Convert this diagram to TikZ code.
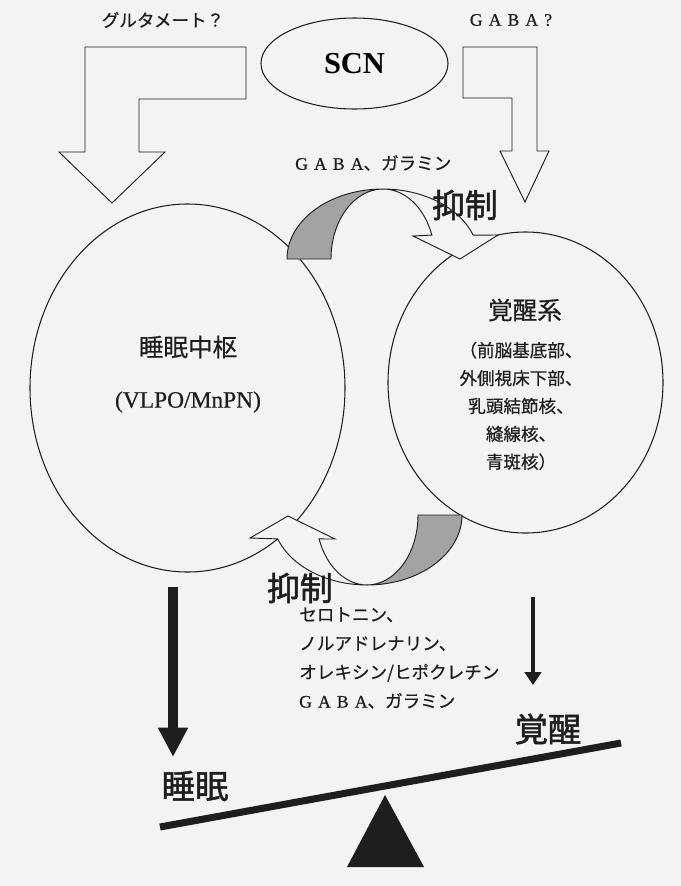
\documentclass[tikz,border=0pt]{standalone}
\usepackage{fontspec}
\setmainfont{Liberation Serif}
\newfontfamily\jp[FakeBold=0.5]{Noto Sans CJK JP}
\newfontfamily\jpheavy[FakeBold=1.5]{Noto Sans CJK JP}
\newfontfamily\serifheavy[FakeBold=0.6]{Liberation Serif}
\newfontfamily\gaba[LetterSpace=35, FakeBold=0.6]{Liberation Serif}
\usetikzlibrary{shapes.geometric, arrows.meta}
\definecolor{paper}{RGB}{243,243,243}
\definecolor{ribbon}{RGB}{163,163,163}
\definecolor{ink}{RGB}{30,30,30}
\tikzset{
  oval/.style={ellipse, draw=ink, line width=0.9pt, inner sep=0pt},
  hollow/.style={draw=ink, line width=0.8pt, fill=paper},
  back/.style={draw=ink, line width=0.8pt, fill=ribbon},
  lbl/.style={inner sep=0pt, text=ink},
  bigarrow/.style={draw=ink, line width=8.5pt, -{Triangle[width=24pt,length=25pt]}},
  smallarrow/.style={draw=ink, line width=4.2pt, -{Triangle[width=14pt,length=11pt]}}
}

\begin{document}
\begin{tikzpicture}[x=0.03cm, y=-0.03cm]
  \path[use as bounding box, fill=paper] (0,0) rectangle (681,886);

  % SCN and the two centres
  \node[oval, minimum width=5.61cm, minimum height=2.73cm, font=\bfseries\fontsize{26}{30}\selectfont] (scn) at (354.5,63.5) {SCN};
  \node[oval, minimum width=9.45cm, minimum height=11.04cm] (sleepc) at (187.5,388) {};
  \node[oval, minimum width=8.25cm, minimum height=9.03cm] (wakec) at (525.5,382.5) {};

  % block arrows from SCN
  \draw[hollow] (246,47) -- (85,47) -- (85,152) -- (59,152) -- (112,203) -- (165,152) -- (139,152) -- (139,99) -- (246,99) -- cycle;
  \draw[hollow] (463,47) -- (537,47) -- (537,151) -- (549,151) -- (525,202) -- (500,151) -- (512,151) -- (512,98) -- (463,98) -- cycle;
  \node[lbl, font=\jp\fontsize{15}{18}\selectfont] (glu) at (163,20) {グルタメート？};
  \node[lbl, font=\gaba\fontsize{15}{18}\selectfont] (gabaq) at (511,20) {GABA?};

  % upper curved arrow
  \draw[hollow] (383,189) arc[start angle=270, end angle=340, x radius=52, y radius=70]
    -- (413,236) -- (460,259) -- (498,235) -- (473.2,235.1)
    arc[start angle=340, end angle=270, x radius=96, y radius=70] -- cycle;
  \draw[back] (287,259) arc[start angle=180, end angle=270, x radius=96, y radius=70]
    arc[start angle=270, end angle=180, x radius=52, y radius=70] -- cycle;

  % lower curved arrow
  \draw[hollow] (367,585) arc[start angle=90, end angle=160, x radius=51, y radius=70]
    -- (335,539) -- (288,516) -- (250,538) -- (277.7,538.9)
    arc[start angle=160, end angle=90, x radius=95, y radius=70] -- cycle;
  \draw[back] (462,515) arc[start angle=0, end angle=90, x radius=95, y radius=70]
    arc[start angle=90, end angle=0, x radius=51, y radius=70] -- cycle;

  % texts
  \node[lbl, anchor=west, font=\jp\fontsize{15}{18}\selectfont] (gaba1) at (295,163) {{\gaba GABA}、ガラミン};
  \node[lbl, font=\jpheavy\fontsize{28}{32}\selectfont] (inhib1) at (465,205) {抑制};
  \node[lbl, font=\jp\fontsize{21}{24}\selectfont] (sleeptitle) at (188,347) {睡眠中枢};
  \node[lbl, font=\serifheavy\fontsize{20}{24}\selectfont] (vlpo) at (188,402) {(VLPO/MnPN)};
  \node[lbl, font=\jp\fontsize{21}{24}\selectfont] (waketitle) at (525,310) {覚醒系};
  \node[lbl, align=center, font=\jp\fontsize{15}{23.8}\selectfont] (wakelist) at (521,406)
    {（前脳基底部、\\外側視床下部、\\乳頭結節核、\\縫線核、\\青斑核）};
  \node[lbl, font=\jpheavy\fontsize{28}{32}\selectfont] (inhib2) at (300,588) {抑制};
  \node[lbl, anchor=west, align=left, font=\jp\fontsize{15}{24.6}\selectfont] (transmit) at (299,658)
    {セロトニン、\\ノルアドレナリン、\\オレキシン/ヒポクレチン\\{\gaba GABA}、ガラミン};

  % outputs and seesaw
  \coordinate (sleepfrom) at (173,587);
  \coordinate (sleepto) at (173,757);
  \coordinate (wakefrom) at (533,597);
  \coordinate (waketo) at (533,685);
  \draw[bigarrow] (sleepfrom) -- (sleepto);
  \draw[smallarrow] (wakefrom) -- (waketo);
  \node[lbl, font=\jpheavy\fontsize{28.5}{32}\selectfont] (sleep) at (195,786) {睡眠};
  \node[lbl, font=\jpheavy\fontsize{28.5}{32}\selectfont] (wake) at (548,729) {覚醒};
  \coordinate (beamL) at (160,827);
  \coordinate (beamR) at (621,743);
  \draw[ink, line width=6pt] (beamL) -- (beamR);
  \fill[ink] (385,795) -- (347,867) -- (424,867) -- cycle;
\end{tikzpicture}
\end{document}
